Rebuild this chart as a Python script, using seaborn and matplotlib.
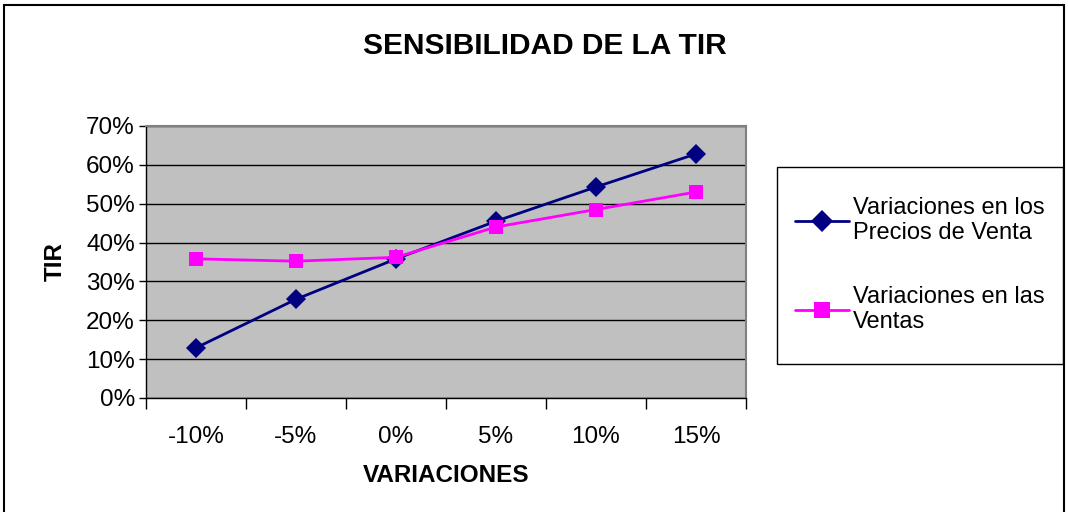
import pandas as pd
import matplotlib
matplotlib.use('Agg')
import matplotlib.pyplot as plt
import seaborn as sns
from matplotlib.patches import Rectangle

# data
variaciones = ['-10%', '-5%', '0%', '5%', '10%', '15%']
precios_venta = [0.129, 0.254, 0.358, 0.455, 0.543, 0.628]
ventas = [0.358, 0.352, 0.362, 0.440, 0.485, 0.530]
series_names = ['Variaciones en los\nPrecios de Venta', 'Variaciones en las\nVentas']

df = pd.DataFrame({
    'pos': list(range(len(variaciones))) * 2,
    'TIR': precios_venta + ventas,
    'serie': [series_names[0]] * 6 + [series_names[1]] * 6,
})

sns.set_style('white')
plt.rcParams['font.family'] = ['Liberation Sans', 'DejaVu Sans']
plt.rcParams['text.color'] = 'black'
plt.rcParams['axes.labelcolor'] = 'black'
plt.rcParams['xtick.color'] = 'black'
plt.rcParams['ytick.color'] = 'black'

fig = plt.figure(figsize=(10.68, 5.12), dpi=100)
ax = fig.add_axes([0.1367, 0.2227, 0.5618, 0.5313])

sns.lineplot(data=df, x='pos', y='TIR', hue='serie', style='serie',
             markers={series_names[0]: 'D', series_names[1]: 's'},
             dashes=False,
             palette={series_names[0]: '#000080', series_names[1]: '#FF00FF'},
             markersize=10, linewidth=2, markeredgewidth=0, ax=ax)

ax.set_facecolor('#C0C0C0')
for s in ax.spines.values():
    s.set_color('#808080')
    s.set_linewidth(1.5)
ax.spines['left'].set_color('black')
ax.spines['bottom'].set_color('black')
ax.spines['left'].set_linewidth(1)
ax.spines['bottom'].set_linewidth(1)

ax.set_ylim(0, 0.7)
ax.set_yticks([i / 10 for i in range(8)])
ax.set_yticklabels([f'{i * 10}%' for i in range(8)])
ax.yaxis.grid(True, color='black', linewidth=1)
ax.set_axisbelow(True)

ax.set_xlim(-0.5, len(variaciones) - 0.5)
ax.set_xticks(range(len(variaciones)))
ax.set_xticklabels(variaciones)
ax.set_xticks([i - 0.5 for i in range(len(variaciones) + 1)], minor=True)
ax.tick_params(axis='x', which='major', length=0, labelsize=17.5, pad=20)
ax.tick_params(axis='x', which='minor', length=8, width=1, color='black', direction='out', bottom=True)
ax.tick_params(axis='y', length=5, width=1, color='black', direction='out', left=True, labelsize=17.5, pad=3)

ax.set_xlabel('VARIACIONES', fontsize=17.5, fontweight='bold', labelpad=12)
ax.set_ylabel('TIR', fontsize=17.5, fontweight='bold', labelpad=14)

fig.text(0.51, 0.91, 'SENSIBILIDAD DE LA TIR', ha='center', va='center',
         fontsize=21.5, fontweight='bold')

# legend box drawn separately so its size matches the original
fig.patches.append(Rectangle((777 / 1068, 1 - 364 / 512), 286 / 1068, 197 / 512,
                             transform=fig.transFigure, fill=False,
                             edgecolor='black', linewidth=1))
leg = ax.legend(loc='center left', bbox_to_anchor=(795 / 1068, 1 - 265 / 512),
                bbox_transform=fig.transFigure, fontsize=17, frameon=False,
                handlelength=2.3, labelspacing=1.75, borderpad=0,
                handletextpad=0.15, borderaxespad=0)
for h in leg.legend_handles:
    h.set_markersize(11)
for t in leg.get_texts():
    t.set_color('black')

fig.patches.append(Rectangle((0.004, -0.01), 0.992, 1.0, transform=fig.transFigure,
                             fill=False, edgecolor='black', linewidth=1.5))

fig.savefig('out.png', dpi=100)
